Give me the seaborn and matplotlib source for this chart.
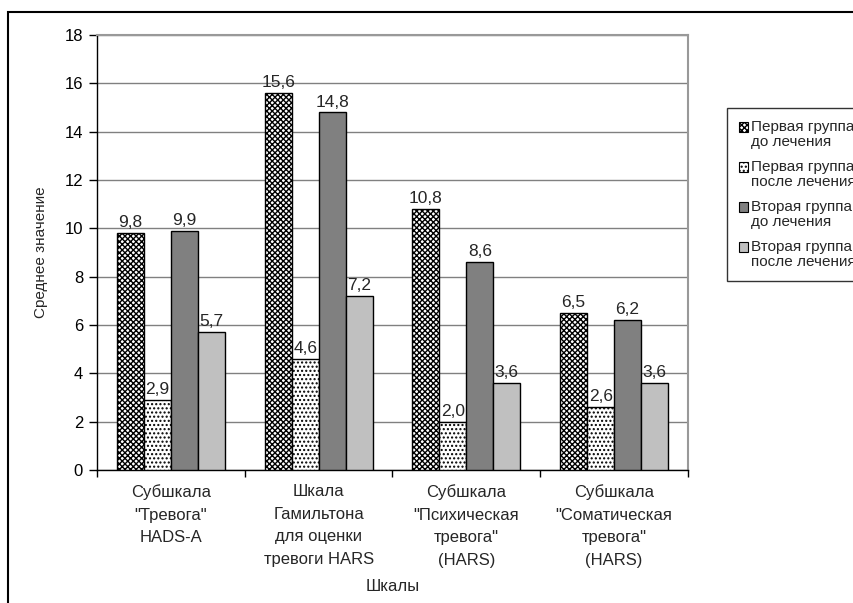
import numpy as np
import pandas as pd
import matplotlib
matplotlib.use('Agg')
import matplotlib.pyplot as plt
import seaborn as sns
from matplotlib.patches import Patch, Rectangle

# данные
categories = ['Субшкала\n"Тревога"\nHADS-A',
              'Шкала\nГамильтона\nдля оценки\nтревоги HARS',
              'Субшкала\n"Психическая\nтревога"\n(HARS)',
              'Субшкала\n"Соматическая\nтревога"\n(HARS)']
groups = ['Первая группа\nдо лечения', 'Первая группа\nпосле лечения',
          'Вторая группа\nдо лечения', 'Вторая группа\nпосле лечения']
group1_before = [9.8, 15.6, 10.8, 6.5]
group1_after = [2.9, 4.6, 2.0, 2.6]
group2_before = [9.9, 14.8, 8.6, 6.2]
group2_after = [5.7, 7.2, 3.6, 3.6]
yticks = [0, 2, 4, 6, 8, 10, 12, 14, 16, 18]

series = [group1_before, group1_after, group2_before, group2_after]
rows = []
for g, vals in zip(groups, series):
    for c, v in zip(categories, vals):
        rows.append({'Шкалы': c, 'value': v, 'group': g})
df = pd.DataFrame(rows)

sns.set_style('white')
plt.rcParams['font.family'] = ['Liberation Sans', 'DejaVu Sans']
plt.rcParams['hatch.linewidth'] = 1.0
plt.rcParams['hatch.color'] = 'black'

colors = ['white', 'white', '#808080', '#c0c0c0']
hatches = ['xxxxxx', '....', '', '']

fig = plt.figure(figsize=(8.54, 6.03), dpi=100)
ax = fig.add_axes([97/854, 1-470/603, (688-97)/854, (470-35)/603])

sns.barplot(data=df, x='Шкалы', y='value', hue='group', hue_order=groups,
            palette=colors, width=0.73, gap=0, edgecolor='black', linewidth=1,
            legend=False, ax=ax, zorder=3)

for cont, h, vals in zip(ax.containers, hatches, series):
    for bar in cont:
        bar.set_hatch(h)
        bar.set_edgecolor('black')
    ax.bar_label(cont, labels=[f'{v:.1f}'.replace('.', ',') for v in vals],
                 padding=2, fontsize=12.5)

ax.set_ylim(0, 18)
ax.set_xlim(-0.5, 3.5)
ax.set_yticks(yticks)
ax.yaxis.grid(True, color='#808080', linewidth=1, zorder=0)
ax.set_axisbelow(True)
ax.tick_params(axis='y', direction='out', length=6, width=1, colors='black',
               labelsize=12, pad=4, left=True)
ax.tick_params(axis='x', which='major', length=0, pad=10)
ax.set_xticks([-0.5, 0.5, 1.5, 2.5, 3.5], minor=True)
ax.tick_params(axis='x', which='minor', direction='out', length=5, width=1,
               colors='black', bottom=True)
ax.set_xticklabels(categories, fontsize=12, linespacing=1.65)

for s in ['left', 'bottom']:
    ax.spines[s].set_color('black')
    ax.spines[s].set_linewidth(1)
for s in ['top', 'right']:
    ax.spines[s].set_color('#999999')
    ax.spines[s].set_linewidth(1.5)

ax.set_xlabel('Шкалы', fontsize=12, labelpad=8)
ax.set_ylabel('Среднее значение', fontsize=11, labelpad=12)

handles = [Patch(facecolor=c, edgecolor='black', hatch=h, linewidth=0.8)
           for c, h in zip(colors, hatches)]
leg = fig.legend(handles, groups, loc='upper left',
                 bbox_to_anchor=(727/854, 1-108/603), fontsize=11,
                 frameon=True, fancybox=False, handlelength=0.55,
                 handleheight=0.55, handletextpad=0.2, labelspacing=0.75,
                 borderpad=0.8, borderaxespad=0)
leg.get_frame().set_edgecolor('black')
leg.get_frame().set_linewidth(1)
for t in leg.get_texts():
    t.set_linespacing(1.05)
for hnd in leg.legend_handles:
    hnd.set_y(hnd.get_y() + 5.5)

# внешняя рамка
fig.patches.append(Rectangle((8/854, -0.05), 1.2, 1-12/603+0.05,
                             transform=fig.transFigure, fill=False,
                             edgecolor='black', linewidth=1.5))

fig.savefig('out.png', dpi=100)
